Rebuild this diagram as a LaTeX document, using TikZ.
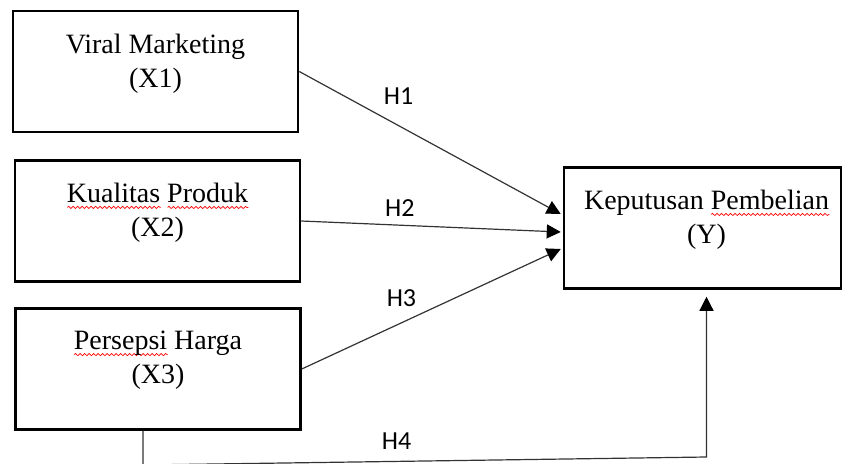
\documentclass[tikz,border=0pt]{standalone}
\usepackage{fontspec}
\setmainfont{Liberation Serif}
\newfontfamily\hypfont{Carlito}
\usetikzlibrary{arrows.meta,positioning,decorations.pathmorphing}
\newlength\spellwd
\newcommand\spell[1]{\settowidth\spellwd{#1}\makebox[0pt][l]{\raisebox{-6pt}{\tikz\draw[red, line width=0.7pt, decorate, decoration={snake, amplitude=1.1pt, segment length=4.5pt}] (0pt,0pt) -- (\spellwd,0pt);}}#1}

\begin{document}
\begin{tikzpicture}[x=1pt, y=-1pt,
	var/.style = {draw, line width=2.5pt, minimum width=285pt, minimum height=121pt, inner sep=0pt},
	txt/.style = {align=center, inner sep=0pt, font=\fontsize{28}{34}\selectfont},
	hyp/.style = {inner sep=0pt, font=\hypfont\fontsize{26}{30}\selectfont},
	link/.style = {draw=black!80, line width=1.2pt, -{Triangle[length=14pt,width=14pt,color=black]}}]
	\useasboundingbox (0,0) rectangle (843,463);
	\node[var] (x1) at (155.5,71.5) {};
	\node[var] (x2) at (157.5,221) {};
	\node[var] (x3) at (158,369) {};
	\node[var, minimum width=277pt] (y) at (702.5,228) {};
	% variable names
	\node[txt, below=24pt of x1.north] (t1) {Viral Marketing\\(X1)};
	\node[txt, below=24pt of x2.north] (t2) {\spell{Kualitas} \spell{Produk}\\(X2)};
	\node[txt, below=24pt of x3.north] (t3) {\spell{Persepsi} Harga\\(X3)};
	\node[txt, below=24pt of y.north, xshift=4pt] (ty) {Keputusan \spell{Pembelian}\\(Y)};
	% hypotheses
	\draw[link] (x1.east) -- node[hyp, pos=0.38, above=21pt] (h1) {H1} ([xshift=-2pt,yshift=14pt]y.west);
	\draw[link] (x2.east) -- node[hyp, pos=0.38, above=8pt] (h2) {H2} ([xshift=-2pt,yshift=-4pt]y.west);
	\draw[link] (x3.east) -- node[hyp, pos=0.385, above=16pt] (h3) {H3} ([xshift=-2pt,yshift=-21pt]y.west);
	\coordinate (c1) at (143,465);
	\coordinate (c2) at (706.5,457);
	\draw[link] ([xshift=-15pt]x3.south) -- (c1) -- node[hyp, pos=0.45, above=11pt] (h4) {H4} (c2) -- ([xshift=4pt,yshift=-7pt]y.south);
\end{tikzpicture}
\end{document}
